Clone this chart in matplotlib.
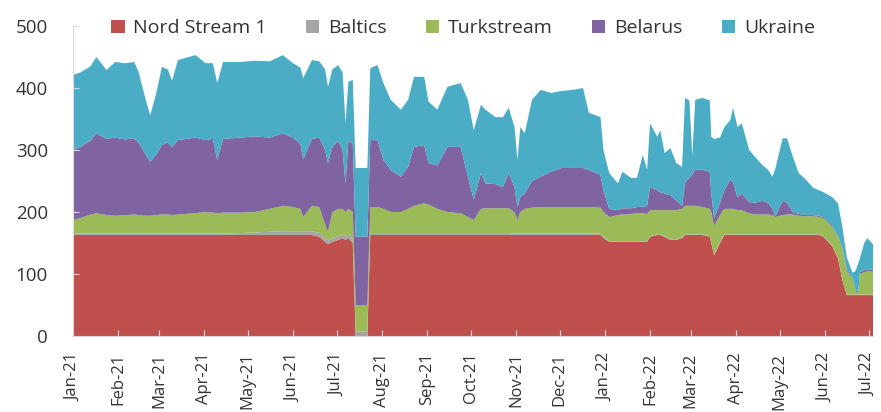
import matplotlib
matplotlib.use("Agg")
import matplotlib.pyplot as plt
import matplotlib.dates as mdates
import pandas as pd

plt.rcParams['font.family'] = ['Open Sans', 'DejaVu Sans']

dates = ['2021-01-01', '2021-01-06', '2021-01-13', '2021-01-17', '2021-01-24', '2021-01-30',
         '2021-02-06', '2021-02-12', '2021-02-15', '2021-02-20', '2021-02-23', '2021-02-27',
         '2021-03-03', '2021-03-07', '2021-03-10', '2021-03-14', '2021-03-26', '2021-04-02',
         '2021-04-07', '2021-04-10', '2021-04-14', '2021-04-26', '2021-05-06', '2021-05-16',
         '2021-05-25', '2021-06-01', '2021-06-06', '2021-06-08', '2021-06-14', '2021-06-19',
         '2021-06-23', '2021-06-25', '2021-06-28', '2021-07-02', '2021-07-05', '2021-07-07',
         '2021-07-09', '2021-07-12', '2021-07-14', '2021-07-22', '2021-07-24', '2021-07-29',
         '2021-08-02', '2021-08-07', '2021-08-14', '2021-08-19', '2021-08-23', '2021-08-30',
         '2021-09-02', '2021-09-08', '2021-09-15', '2021-09-24', '2021-09-29', '2021-10-03',
         '2021-10-08', '2021-10-11', '2021-10-18', '2021-10-23', '2021-10-27', '2021-10-31',
         '2021-11-02', '2021-11-04', '2021-11-07', '2021-11-12', '2021-11-18', '2021-11-25',
         '2021-12-02', '2021-12-10', '2021-12-17', '2021-12-21', '2021-12-29', '2021-12-31',
         '2022-01-04', '2022-01-10', '2022-01-13', '2022-01-19', '2022-01-23', '2022-01-27',
         '2022-01-30', '2022-02-01', '2022-02-06', '2022-02-08', '2022-02-11', '2022-02-15',
         '2022-02-19', '2022-02-23', '2022-02-25', '2022-02-28', '2022-03-02', '2022-03-04',
         '2022-03-09', '2022-03-14', '2022-03-15', '2022-03-17', '2022-03-21', '2022-03-24',
         '2022-03-28', '2022-03-30', '2022-04-02', '2022-04-05', '2022-04-10', '2022-04-14',
         '2022-04-19', '2022-04-23', '2022-04-26', '2022-04-28', '2022-05-03', '2022-05-06',
         '2022-05-10', '2022-05-14', '2022-05-19', '2022-05-24', '2022-05-28', '2022-05-31',
         '2022-06-06', '2022-06-10', '2022-06-13', '2022-06-16', '2022-06-20', '2022-06-22',
         '2022-06-24', '2022-06-25', '2022-06-28', '2022-06-30', '2022-07-04']

nord_stream = [163, 163, 163, 163, 163, 163, 163, 163, 163, 163, 163, 163,
               163, 163, 163, 163, 163, 163, 163, 163, 163, 163, 163, 163,
               163, 163, 163, 163, 163, 160, 152, 148, 152, 155, 158, 155,
               158, 150, 0, 0, 163, 163, 163, 163, 163, 163, 163, 163,
               163, 163, 163, 163, 163, 163, 163, 163, 163, 163, 163, 163,
               163, 163, 163, 163, 163, 163, 163, 163, 163, 163, 163, 158,
               152, 152, 152, 152, 152, 152, 152, 160, 163, 163, 160, 155,
               155, 158, 163, 163, 163, 163, 163, 160, 150, 130, 150, 163,
               163, 163, 163, 163, 163, 163, 163, 163, 163, 163, 163, 163,
               163, 163, 163, 163, 163, 160, 145, 125, 90, 66, 66, 66,
               66, 66, 66, 66, 66]

baltics = [2, 2, 2, 2, 2, 2, 2, 2, 2, 2, 2, 2,
           2, 2, 2, 2, 2, 2, 2, 2, 2, 3, 4, 5,
           6, 6, 6, 6, 6, 6, 6, 6, 6, 6, 6, 6,
           6, 6, 7, 7, 3, 3, 3, 3, 3, 3, 3, 3,
           3, 3, 3, 3, 3, 3, 3, 3, 3, 3, 3, 2,
           2, 2, 2, 2, 2, 2, 2, 2, 2, 2, 2, 2,
           1, 1, 1, 1, 1, 1, 1, 1, 1, 1, 1, 1,
           1, 1, 1, 1, 1, 1, 1, 1, 1, 1, 1, 1,
           1, 1, 1, 1, 1, 1, 1, 1, 1, 1, 1, 1,
           1, 1, 1, 1, 1, 1, 1, 1, 1, 1, 1, 1,
           1, 1, 1, 1, 1]

turkstream = [22, 25, 31, 33, 30, 29, 30, 31, 30, 29, 29, 30,
              31, 31, 30, 31, 33, 35, 34, 33, 34, 33, 33, 37,
              41, 39, 36, 23, 41, 42, 22, 14, 42, 44, 41, 39,
              41, 44, 43, 43, 42, 42, 39, 34, 34, 39, 44, 48,
              46, 39, 34, 32, 26, 21, 39, 40, 40, 40, 40, 35,
              22, 35, 40, 42, 43, 43, 43, 43, 43, 43, 42, 40,
              39, 42, 43, 44, 45, 45, 44, 42, 39, 39, 42, 47,
              47, 46, 46, 46, 46, 46, 44, 44, 49, 47, 44, 41,
              41, 41, 39, 39, 34, 32, 32, 32, 31, 28, 31, 32,
              32, 30, 29, 29, 28, 29, 30, 34, 49, 38, 25, 5,
              3, 33, 36, 37, 37]

belarus = [113, 115, 119, 129, 123, 126, 122, 123, 117, 98, 87, 97,
           112, 116, 110, 120, 122, 116, 119, 86, 119, 121, 122, 115,
           117, 112, 105, 93, 108, 112, 120, 111, 105, 110, 95, 46,
           111, 110, 110, 110, 108, 108, 79, 68, 57, 68, 95, 94,
           67, 70, 105, 107, 65, 33, 58, 40, 39, 34, 57, 40,
           21, 24, 25, 43, 49, 57, 63, 63, 63, 60, 53, 35,
           13, 8, 10, 9, 10, 10, 13, 37, 32, 29, 27, 24,
           16, 5, 38, 45, 50, 58, 60, 60, 30, 12, 20, 30,
           47, 43, 21, 27, 18, 19, 22, 19, 10, 1, 23, 19,
           4, 3, 2, 2, 2, 2, 2, 2, 2, 2, 2, 2,
           2, 3, 3, 3, 3]

ukraine = [121, 120, 120, 123, 111, 122, 123, 123, 114, 88, 75, 98,
           126, 118, 107, 129, 133, 124, 122, 124, 124, 122, 122, 123,
           126, 120, 123, 131, 127, 123, 130, 123, 125, 122, 125, 97,
           94, 103, 111, 111, 116, 121, 124, 113, 108, 108, 113, 110,
           99, 90, 97, 103, 124, 112, 110, 119, 108, 113, 105, 97,
           76, 113, 97, 131, 140, 127, 124, 126, 129, 92, 93, 65,
           58, 43, 59, 49, 47, 84, 58, 103, 86, 100, 65, 76,
           60, 63, 136, 125, 30, 113, 116, 115, 91, 128, 105, 102,
           96, 120, 113, 113, 84, 74, 58, 53, 52, 77, 101, 104,
           89, 66, 57, 44, 41, 40, 46, 52, 34, 20, 8, 31,
           46, 22, 44, 51, 41]

labels = ['Nord Stream 1', 'Baltics', 'Turkstream', 'Belarus', 'Ukraine']
colors = ['#C0504D', '#A5A5A5', '#9BBB59', '#8064A2', '#4BACC6']

x = pd.to_datetime(dates)

fig = plt.figure(figsize=(8.81, 4.12), dpi=100)
ax = fig.add_axes([73 / 881, 76 / 412, 800 / 881, 310 / 412])

ax.stackplot(x, nord_stream, baltics, turkstream, belarus, ukraine,
             colors=colors, labels=labels, linewidth=0)

ax.set_ylim(0, 500)
ax.set_yticks([0, 100, 200, 300, 400, 500])
ax.set_xlim(x[0], x[-1])
ax.xaxis.set_major_locator(mdates.MonthLocator())
ax.xaxis.set_major_formatter(mdates.DateFormatter('%b-%y'))

for s in ['top', 'right']:
    ax.spines[s].set_visible(False)
for s in ['left', 'bottom']:
    ax.spines[s].set_color('#d9d9d9')

ax.tick_params(axis='x', direction='in', length=4, color='#d9d9d9',
               labelsize=12, labelcolor='#333333', rotation=90, pad=12)
ax.tick_params(axis='y', direction='in', length=4, color='#d9d9d9',
               labelsize=13.5, labelcolor='#333333', pad=18)

leg = ax.legend(loc='center', bbox_to_anchor=(0.4875, 0.993), ncol=5, frameon=False,
                fontsize=14, handlelength=0.7, handleheight=0.7, handletextpad=0.45,
                columnspacing=2.0, labelcolor='#333333')

fig.savefig('out.png', dpi=100)
